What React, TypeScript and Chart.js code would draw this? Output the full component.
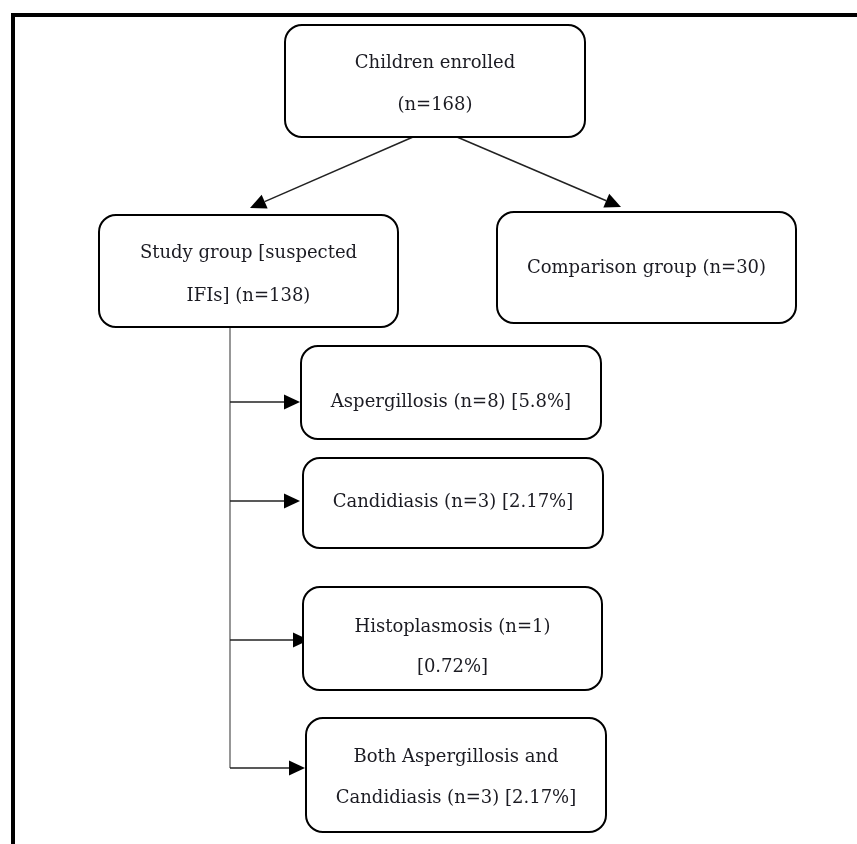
import { useEffect, useRef } from "react";
import { Chart, registerables } from "chart.js";

Chart.register(...registerables);

// ---- content ----
const nodeLabels: string[][] = [
  ["Children enrolled", "(n=168)"],
  ["Study group [suspected", "IFIs] (n=138)"],
  ["Comparison group (n=30)"],
  ["Aspergillosis (n=8) [5.8%]"],
  ["Candidiasis (n=3) [2.17%]"],
  ["Histoplasmosis (n=1)", "[0.72%]"],
  ["Both Aspergillosis and", "Candidiasis (n=3) [2.17%]"],
];
const nodeCounts: number[] = [168, 138, 30, 8, 3, 1, 3];

// edges: parent -> child
const edgeFrom: number[] = [0, 0, 1, 1, 1, 1];
const edgeTo: number[] = [1, 2, 3, 4, 5, 6];

// ---- layout (scale units = page pixels) ----
const boxX0: number[] = [285, 99, 497, 301, 303, 303, 306];
const boxY0: number[] = [25, 215, 212, 346, 458, 587, 718];
const boxX1: number[] = [585, 398, 796, 601, 603, 602, 606];
const boxY1: number[] = [137, 327, 323, 439, 548, 690, 832];
const lineY: number[][] = [
  [63, 105],
  [253, 296],
  [268],
  [402],
  [502],
  [627, 667],
  [757, 798],
];
// edge geometry: start point and end (arrow tip)
const edgeStartX: number[] = [413, 457, 230, 230, 230, 230];
const edgeStartY: number[] = [137, 137, 402, 501, 640, 768];
const edgeEndX: number[] = [250, 621, 300, 300, 309, 305];
const edgeEndY: number[] = [208, 207, 402, 501, 640, 768];
const trunkX = 230;
const trunkTop = 327;
const trunkBottom = 768;

const W = 857;
const H = 844;

const flowPlugin = {
  id: "flow",
  afterDraw(chart: any) {
    const ctx: CanvasRenderingContext2D = chart.ctx;
    const xs = chart.scales.x;
    const ys = chart.scales.y;
    const px = (v: number) => xs.getPixelForValue(v);
    const py = (v: number) => ys.getPixelForValue(v);
    ctx.save();

    // outer frame (top + left)
    ctx.fillStyle = "#000";
    ctx.fillRect(px(11), py(13), px(857) - px(11), 4);
    ctx.fillRect(px(11), py(13), 4, py(844) - py(13));

    // trunk line
    ctx.strokeStyle = "#6a6a6a";
    ctx.lineWidth = 1.4;
    ctx.beginPath();
    ctx.moveTo(px(trunkX), py(trunkTop));
    ctx.lineTo(px(trunkX), py(trunkBottom));
    ctx.stroke();

    // edges with arrowheads
    for (let i = 0; i < edgeFrom.length; i++) {
      const x0 = px(edgeStartX[i]);
      const y0 = py(edgeStartY[i]);
      const x1 = px(edgeEndX[i]);
      const y1 = py(edgeEndY[i]);
      const ang = Math.atan2(y1 - y0, x1 - x0);
      const len = 16;
      const hw = 7.5;
      const bx = x1 - len * Math.cos(ang);
      const by = y1 - len * Math.sin(ang);
      ctx.strokeStyle = "#222";
      ctx.lineWidth = 1.5;
      ctx.beginPath();
      ctx.moveTo(x0, y0);
      ctx.lineTo(bx, by);
      ctx.stroke();
      ctx.fillStyle = "#000";
      ctx.beginPath();
      ctx.moveTo(x1, y1);
      ctx.lineTo(bx + hw * Math.sin(ang), by - hw * Math.cos(ang));
      ctx.lineTo(bx - hw * Math.sin(ang), by + hw * Math.cos(ang));
      ctx.closePath();
      ctx.fill();
    }

    // boxes
    for (let i = 0; i < nodeLabels.length; i++) {
      const x0 = px(boxX0[i]);
      const y0 = py(boxY0[i]);
      const x1 = px(boxX1[i]);
      const y1 = py(boxY1[i]);
      ctx.fillStyle = "#fff";
      ctx.strokeStyle = "#000";
      ctx.lineWidth = 2;
      ctx.beginPath();
      (ctx as any).roundRect(x0, y0, x1 - x0, y1 - y0, 17);
      ctx.fill();
      ctx.stroke();

      ctx.fillStyle = "#1b1b22";
      ctx.font = "18px 'DejaVu Serif'";
      ctx.textAlign = "center";
      ctx.textBaseline = "middle";
      const cx = (x0 + x1) / 2;
      nodeLabels[i].forEach((t, j) => {
        ctx.fillText(t, cx, py(lineY[i][j]));
      });
    }
    ctx.restore();
  },
};

export default function App() {
  const ref = useRef<HTMLCanvasElement | null>(null);
  useEffect(() => {
    if (!ref.current) return;
    const centers = nodeLabels.map((_, i) => ({
      x: (boxX0[i] + boxX1[i]) / 2,
      y: (boxY0[i] + boxY1[i]) / 2,
      n: nodeCounts[i],
    }));
    const chart = new Chart(ref.current, {
      type: "scatter",
      data: {
        datasets: [
          {
            label: "nodes",
            data: centers,
            pointRadius: 0,
            pointHoverRadius: 0,
          },
        ],
      },
      options: {
        animation: false,
        responsive: true,
        maintainAspectRatio: false,
        layout: { padding: 0 },
        events: [],
        plugins: {
          legend: { display: false },
          tooltip: { enabled: false },
          title: { display: false },
        },
        scales: {
          x: { type: "linear", min: 0, max: W, display: false },
          y: { type: "linear", min: 0, max: H, reverse: true, display: false },
        },
      },
      plugins: [flowPlugin],
    });
    return () => chart.destroy();
  }, []);
  return (
    <div
      style={{
        position: "fixed",
        left: 0,
        top: 0,
        width: W,
        height: H,
        background: "#fff",
      }}
    >
      <canvas ref={ref} />
    </div>
  );
}
